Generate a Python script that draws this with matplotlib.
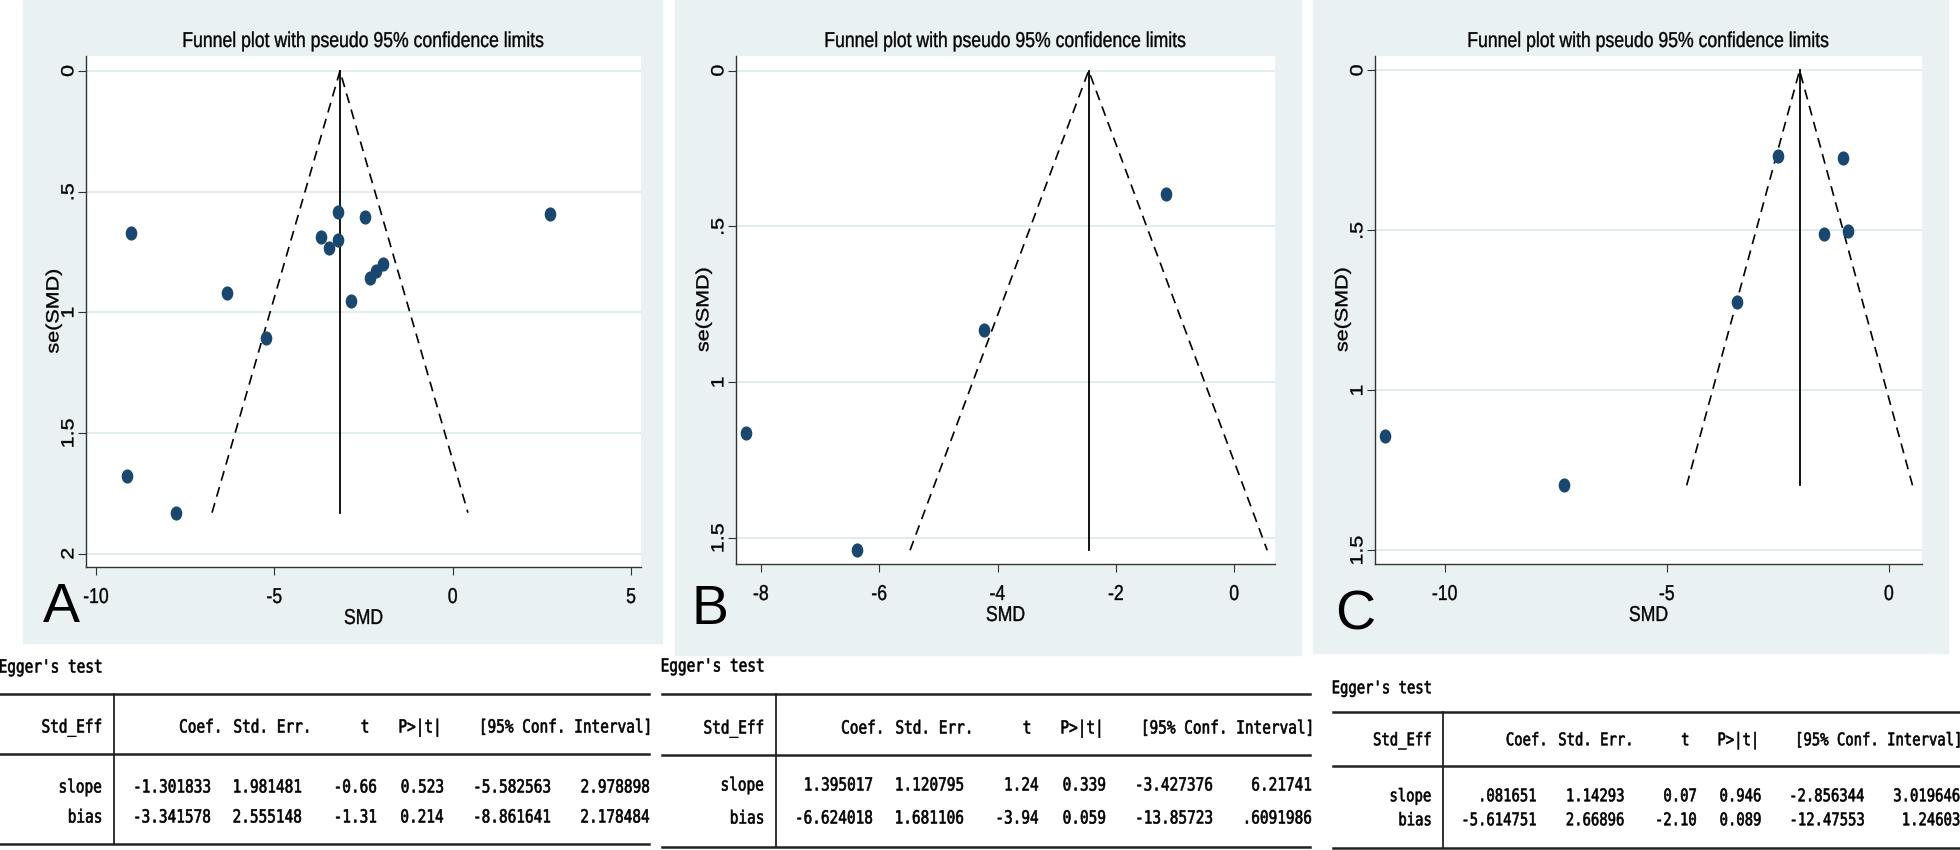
import matplotlib
matplotlib.use('Agg')
from matplotlib import pyplot as plt
from matplotlib.font_manager import FontProperties
from matplotlib.patches import Rectangle, PathPatch
from matplotlib.textpath import TextPath
from matplotlib.transforms import Affine2D
from matplotlib.path import Path

# funnel plot data (SMD, se(SMD)) per panel
smd_a = [-9.01, -9.13, -7.77, -6.33, -5.24, -3.69, -3.48, -3.21, -3.21, -2.85, -2.45, -2.31, -2.14, -1.95, 2.74]
se_a = [0.673, 1.68, 1.83, 0.919, 1.108, 0.688, 0.733, 0.585, 0.699, 0.953, 0.606, 0.857, 0.828, 0.799, 0.594]
pooled_a = -3.16

smd_b = [-8.25, -6.38, -4.22, -1.15]
se_b = [1.162, 1.540, 0.833, 0.395]
pooled_b = -2.46

smd_c = [-11.34, -7.31, -3.42, -2.49, -1.03, -1.46, -0.93]
se_c = [1.144, 1.297, 0.725, 0.268, 0.275, 0.510, 0.501]
pooled_c = -2.01

xticks_a = [-10, -5, 0, 5]
yticks_a = [0, 0.5, 1, 1.5, 2]
xticks_b = [-8, -6, -4, -2, 0]
yticks_b = [0, 0.5, 1, 1.5]
xticks_c = [-10, -5, 0]
yticks_c = [0, 0.5, 1, 1.5]
ytick_labels = {0: '0', 0.5: '.5', 1: '1', 1.5: '1.5', 2: '2'}

# Egger's test tables
header = ['Std_Eff', 'Coef.', 'Std. Err.', 't', 'P>|t|', '[95% Conf. Interval]']
rows_a = [['slope', '-1.301833', '1.981481', '-0.66', '0.523', '-5.582563', '2.978898'],
          ['bias', '-3.341578', '2.555148', '-1.31', '0.214', '-8.861641', '2.178484']]
rows_b = [['slope', '1.395017', '1.120795', '1.24', '0.339', '-3.427376', '6.21741'],
          ['bias', '-6.624018', '1.681106', '-3.94', '0.059', '-13.85723', '.6091986']]
rows_c = [['slope', '.081651', '1.14293', '0.07', '0.946', '-2.856344', '3.019646'],
          ['bias', '-5.614751', '2.66896', '-2.10', '0.089', '-12.47553', '1.24603']]

W, H = 1960, 850
fig = plt.figure(figsize=(W / 100, H / 100), dpi=100)
bg = fig.add_axes([0, 0, 1, 1])
bg.set_xlim(0, W)
bg.set_ylim(H, 0)
bg.axis('off')

BGC = '#eaf1f3'
NAVY = '#1a476f'
SANS = 'Liberation Sans'
MONO = 'DejaVu Sans Mono'
TXT = 21.5   # stata text size in px
SQ = 0.82    # the source picture is squeezed horizontally

# squeezed ellipse marker, like the stretched original
_c = Path.unit_circle()
ELL = Path(_c.vertices * [0.8, 1.0], _c.codes)


def stext(x, y, s, px, ha='center', va='center', rot=0, sx=SQ, family=SANS, bold=0.25):
    tp = TextPath((0, 0), s, size=px, prop=FontProperties(family=family))
    bb = tp.get_extents()
    dx = {'left': -bb.x0, 'right': -bb.x1, 'center': -(bb.x0 + bb.x1) / 2}[ha]
    dy = {'baseline': 0, 'center': -0.36 * px}[va]
    tf = Affine2D().translate(dx, dy).rotate_deg(rot).scale(sx, -1).translate(x, y)
    bg.add_patch(PathPatch(tf.transform_path(tp), fc='black', ec='black', lw=bold, zorder=5))


def px_axes(l, t, r, b):
    return fig.add_axes([l / W, 1 - b / H, (r - l) / W, (b - t) / H])


def funnel(box, panel_bg, smd, se, pooled, xlim, ylim, xticks, yticks, letter, letter_pos):
    l, t, r, b = panel_bg
    bg.add_patch(Rectangle((l, t), r - l, b - t, color=BGC, zorder=0))
    ax = px_axes(*box)
    ax.set_facecolor('white')
    ax.set_xlim(*xlim)
    ax.set_ylim(ylim[1], ylim[0])
    for yv in yticks:
        ax.axhline(yv, color='#e2ebee', lw=1.4, zorder=0)
    semax = max(se)
    ax.plot([pooled, pooled], [0, semax], color='black', lw=1.3)
    ax.plot([pooled - 1.96 * semax, pooled, pooled + 1.96 * semax], [semax, 0, semax],
            color='black', lw=1.2, dashes=(6, 4))
    ax.plot(smd, se, ls='none', marker=ELL, color=NAVY, ms=9.2, mec=NAVY)
    for s in ['top', 'right']:
        ax.spines[s].set_visible(False)
    for s in ['left', 'bottom']:
        ax.spines[s].set_color('#333333')
        ax.spines[s].set_linewidth(1.0)
    ax.set_xticks(xticks)
    ax.set_yticks(yticks)
    ax.tick_params(length=6, color='#333333', labelbottom=False, labelleft=False)

    # texts drawn squeezed, placed through the axes transform
    bl, bt, br, bb_ = box
    for xt in xticks:
        xp = ax.transData.transform((xt, 0))[0]
        stext(xp, bb_ + 36, str(xt), TXT, ha='center', va='baseline')
    for yt in yticks:
        yp = H - ax.transData.transform((0, yt))[1]
        stext(bl - 19, yp, ytick_labels[yt], TXT, ha='center', va='center', rot=90)
    stext((bl + br) / 2, bb_ + 57, 'SMD', TXT, ha='center', va='baseline')
    stext(bl - 34, (bt + bb_) / 2, 'se(SMD)', TXT, ha='center', va='center', rot=90)
    stext((bl + br) / 2, 47, 'Funnel plot with pseudo 95% confidence limits', TXT,
          ha='center', va='baseline')
    bg.text(letter_pos[0], letter_pos[1], letter, fontsize=40, family=SANS,
            ha='left', va='baseline', zorder=3)
    return ax


funnel((86, 56, 641, 567), (23, 0, 662, 643), smd_a, se_a, pooled_a,
       (-10.28, 5.28), (-0.062, 2.055), xticks_a, yticks_a, 'A', (43, 622))
funnel((736, 56, 1275, 564), (675, 0, 1301, 655), smd_b, se_b, pooled_b,
       (-8.42, 0.69), (-0.047, 1.584), xticks_b, yticks_b, 'B', (691, 624))
funnel((1375, 56, 1922, 564), (1313, 0, 1948, 653), smd_c, se_c, pooled_c,
       (-11.57, 0.746), (-0.045, 1.543), xticks_c, yticks_c, 'C', (1335, 629))

# table column right edges, relative to table left
hdr_x = [101, 219, 308, 368, 438, 649]
val_x = [101, 210, 301, 376, 443, 550, 649]
vline_x = 114


def egger(left, width, scale, ys, rows):
    y_eg, y_top, y_hdr, y_mid, y_r1, y_r2, y_bot = ys
    px = 18 * scale
    kw = dict(sx=0.8, family=MONO, bold=0.45)
    stext(left, y_eg, "Egger's test", px, ha='left', **kw)
    for yy in (y_top, y_mid, y_bot):
        bg.plot([left, left + width], [yy, yy], color='#222222', lw=1.8)
    bg.plot([left + vline_x * scale] * 2, [y_top, y_bot], color='#222222', lw=1.3)
    for txt, xx in zip(header, hdr_x):
        stext(left + xx * scale, y_hdr, txt, px, ha='right', **kw)
    for row, yy in zip(rows, (y_r1, y_r2)):
        for txt, xx in zip(row, val_x):
            stext(left + xx * scale, yy, txt, px, ha='right', **kw)


egger(0, 649, 1.0, (666, 694, 726, 754, 786, 816, 844), rows_a)
egger(662, 648, 1.0, (665, 694, 727, 755, 784, 817, 847), rows_b)
egger(1333, 627, 0.965, (687, 712, 739, 766, 795, 819, 848), rows_c)

plt.savefig('out.png', dpi=100)
